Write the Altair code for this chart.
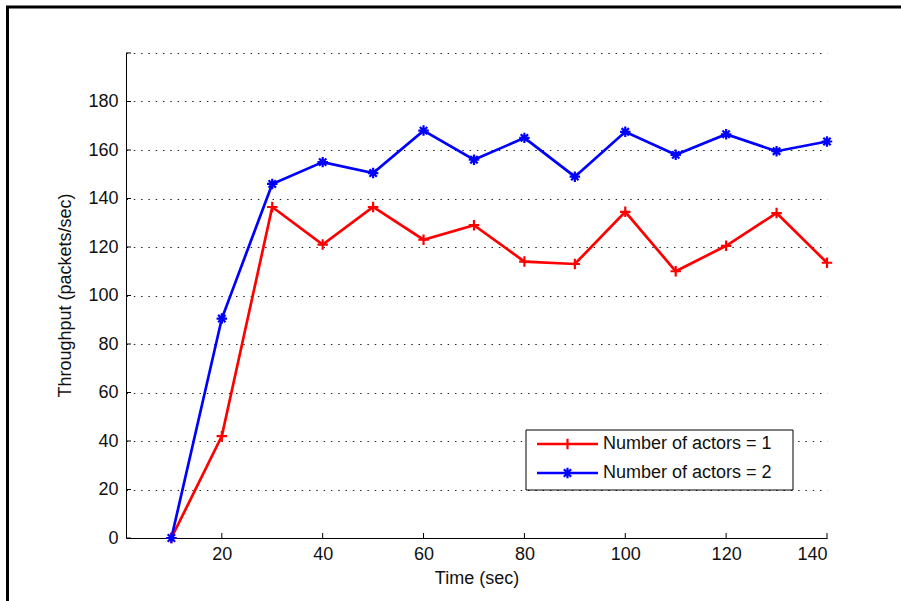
import altair as alt
import pandas as pd

# ---- data ----
times = [10, 20, 30, 40, 50, 60, 70, 80, 90, 100, 110, 120, 130, 140]
actors1 = [0, 42, 136.5, 121, 136.5, 123, 129, 114, 113, 134.5, 110, 120.5, 134, 113.5]
actors2 = [0, 90.5, 146, 155, 150.5, 168, 156, 165, 149, 167.5, 158, 166.5, 159.5, 163.5]
series_names = ["Number of actors = 1", "Number of actors = 2"]
series_colors = ["#ff0000", "#0000ff"]
y_ticks = [0, 20, 40, 60, 80, 100, 120, 140, 160, 180, 200]
x_ticks = [20, 40, 60, 80, 100, 120, 140]

FONT = "Liberation Sans"
FS = 18
PLUS = "M-1,0L1,0M0,-1L0,1"
STAR = "M-1,0L1,0M0,-1L0,1M-0.7,-0.7L0.7,0.7M-0.7,0.7L0.7,-0.7"

df = pd.DataFrame({
    "t": times * 2,
    "v": actors1 + actors2,
    "s": [series_names[0]] * len(times) + [series_names[1]] * len(times),
})
one = pd.DataFrame({"a": [0]})

W, H = 701, 485
xs = alt.Scale(domain=[1, 140], nice=False, zero=False)
ys = alt.Scale(domain=[0, 200], nice=False)
cs = alt.Scale(domain=series_names, range=series_colors)
ss = alt.Scale(domain=series_names, range=[PLUS, STAR])

base = alt.Chart(df)

lines = base.mark_line(strokeWidth=2.7).encode(
    x=alt.X("t:Q", scale=xs, axis=alt.Axis(
        values=x_ticks, ticks=False, grid=False, domainColor="black",
        labelFont=FONT, labelFontSize=FS, labelColor="#111", labelPadding=7,
        title="Time (sec)", titleFont=FONT, titleFontSize=FS, titleFontWeight="normal",
        titleColor="#111", titleY=40, titleBaseline="middle")),
    y=alt.Y("v:Q", scale=ys, axis=alt.Axis(
        values=y_ticks, ticks=False, grid=True, gridColor="black", gridDash=[1.5, 5.8],
        gridOpacity=0.85, domainColor="black",
        labelExpr="datum.value == 200 ? '' : datum.label",
        labelFont=FONT, labelFontSize=FS, labelColor="#111", labelPadding=8,
        title="Throughput (packets/sec)", titleFont=FONT, titleFontSize=FS,
        titleFontWeight="normal", titleColor="#111", titleX=-61, titleY=242,
        titleBaseline="middle")),
    color=alt.Color("s:N", scale=cs, legend=None),
    detail="s:N",
)

points = base.mark_point(filled=False, strokeWidth=2.2, size=110, opacity=1).encode(
    x=alt.X("t:Q", scale=xs),
    y=alt.Y("v:Q", scale=ys),
    color=alt.Color("s:N", scale=cs, legend=None),
    shape=alt.Shape("s:N", scale=ss, legend=None),
)

# inward tick marks
yt = alt.Chart(pd.DataFrame({"v": y_ticks})).mark_rule(color="black", strokeWidth=1).encode(
    y=alt.Y("v:Q", scale=ys), x=alt.value(0), x2=alt.value(5))
xt = alt.Chart(pd.DataFrame({"t": x_ticks})).mark_rule(color="black", strokeWidth=1).encode(
    x=alt.X("t:Q", scale=xs), y=alt.value(H), y2=alt.value(H - 5))

# figure frame (left and top edges visible)
frame_l = alt.Chart(one).mark_rule(color="black", strokeWidth=3).encode(
    x=alt.value(-118.5), y=alt.value(-47), y2=alt.value(548))
frame_t = alt.Chart(one).mark_rule(color="black", strokeWidth=3).encode(
    y=alt.value(-46), x=alt.value(-120), x2=alt.value(775))

# legend box
leg_box = alt.Chart(one).mark_rect(fill="white", stroke="black", strokeWidth=1).encode(
    x=alt.value(400), x2=alt.value(667), y=alt.value(377), y2=alt.value(437))
leg_layers = [leg_box]
for i, (name, col, shp) in enumerate(zip(series_names, series_colors, [PLUS, STAR])):
    yy = 391 + i * 29
    leg_layers.append(alt.Chart(one).mark_rule(color=col, strokeWidth=2.7).encode(
        x=alt.value(411), x2=alt.value(472), y=alt.value(yy)))
    leg_layers.append(alt.Chart(one).mark_point(shape=shp, filled=False, color=col,
                                                strokeWidth=2.2, size=110, opacity=1).encode(
        x=alt.value(441.5), y=alt.value(yy)))
    leg_layers.append(alt.Chart(one).mark_text(text=name, align="left", baseline="middle",
                                               font=FONT, fontSize=FS, color="#111").encode(
        x=alt.value(477), y=alt.value(yy)))

chart = alt.layer(lines, points, yt, xt, frame_l, frame_t, *leg_layers).properties(
    width=W, height=H,
    autosize=alt.AutoSizeParams(type="none"),
    padding={"left": 126, "top": 53, "right": 74, "bottom": 63},
    background="white",
).configure_view(stroke=None)

chart.save("out.html", embed_options={"renderer": "svg", "actions": False})
